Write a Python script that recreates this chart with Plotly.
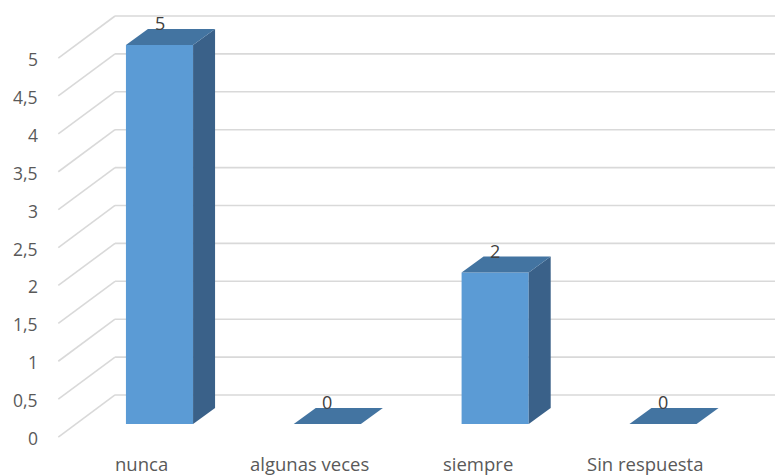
import plotly.graph_objects as go

# Survey answers and their counts
categories = ["nunca", "algunas veces", "siempre", "Sin respuesta"]
counts = [5, 0, 2, 0]

# Value axis ticks and how they are printed (decimal comma)
tick_values = [0, 0.5, 1, 1.5, 2, 2.5, 3, 3.5, 4, 4.5, 5]
tick_labels = ["0", "0,5", "1", "1,5", "2", "2,5", "3", "3,5", "4", "4,5", "5"]

# Pseudo-3D geometry, in axis units
BAR_W = 0.40          # width of the front face
DEPTH_X = 0.131       # bar depth, horizontal shift
DEPTH_Y = 0.211       # bar depth, vertical shift
WALL_X0, WALL_X1 = -0.603, -0.265   # side wall: front / back x
WALL_DY_FRONT, WALL_DY_BACK = -0.172, 0.383
FLOOR_SHIFT_X = -0.105  # category labels sit on the floor's front edge

FRONT = "#5b9bd5"
TOP = "#4374a1"
SIDE = "#3a6189"
GRID = "#d9d9d9"
TEXT = "#595959"
FONT = "Open Sans"

X_RANGE = [-0.9504, 3.6674]
Y_RANGE = [-0.686, 5.594]

fig = go.Figure()

# Front faces
xs = list(range(len(categories)))
fig.add_trace(go.Bar(
    x=xs, y=counts, width=BAR_W,
    marker=dict(color=FRONT, line=dict(width=0)),
    hoverinfo="skip", showlegend=False,
))

# Side and top faces
for i, v in enumerate(counts):
    left = i - BAR_W / 2
    right = i + BAR_W / 2
    if v > 0:
        fig.add_trace(go.Scatter(
            x=[right, right + DEPTH_X, right + DEPTH_X, right, right],
            y=[0, DEPTH_Y, v + DEPTH_Y, v, 0],
            fill="toself", fillcolor=SIDE, mode="lines",
            line=dict(width=0, color=SIDE),
            hoverinfo="skip", showlegend=False,
        ))
    fig.add_trace(go.Scatter(
        x=[left, left + DEPTH_X, right + DEPTH_X, right, left],
        y=[v, v + DEPTH_Y, v + DEPTH_Y, v, v],
        fill="toself", fillcolor=TOP, mode="lines",
        line=dict(width=0, color=TOP),
        hoverinfo="skip", showlegend=False,
    ))

shapes = []
annotations = []

# Back wall gridlines and the side-wall diagonals
for v in tick_values:
    shapes.append(dict(
        type="line", layer="below", xref="x", yref="y",
        x0=WALL_X1, x1=X_RANGE[1], y0=v + WALL_DY_BACK, y1=v + WALL_DY_BACK,
        line=dict(color=GRID, width=1.6),
    ))
    shapes.append(dict(
        type="line", layer="below", xref="x", yref="y",
        x0=WALL_X0, x1=WALL_X1, y0=v + WALL_DY_FRONT, y1=v + WALL_DY_BACK,
        line=dict(color=GRID, width=1.6),
    ))

# Value axis labels
for v, t in zip(tick_values, tick_labels):
    annotations.append(dict(
        x=-0.71, y=v - 0.185, xref="x", yref="y", text=t,
        showarrow=False, xanchor="right", yanchor="middle",
        font=dict(family=FONT, size=17.5, color=TEXT),
    ))

# Category labels
for i, c in enumerate(categories):
    annotations.append(dict(
        x=i + FLOOR_SHIFT_X, y=-0.515, xref="x", yref="y", text=c,
        showarrow=False, xanchor="center", yanchor="middle",
        font=dict(family=FONT, size=18.5, color=TEXT),
    ))

# Data labels above each bar
for i, v in enumerate(counts):
    annotations.append(dict(
        x=i, y=v + DEPTH_Y + 0.075, xref="x", yref="y", text=str(v),
        showarrow=False, xanchor="center", yanchor="middle",
        font=dict(family=FONT, size=18, color="#404040"),
    ))

fig.update_layout(
    width=775, height=476,
    margin=dict(l=0, r=0, t=0, b=0),
    paper_bgcolor="white", plot_bgcolor="white",
    xaxis=dict(range=X_RANGE, visible=False, fixedrange=True),
    yaxis=dict(range=Y_RANGE, visible=False, fixedrange=True),
    shapes=shapes, annotations=annotations,
    showlegend=False,
)

fig.write_html("out.html")
